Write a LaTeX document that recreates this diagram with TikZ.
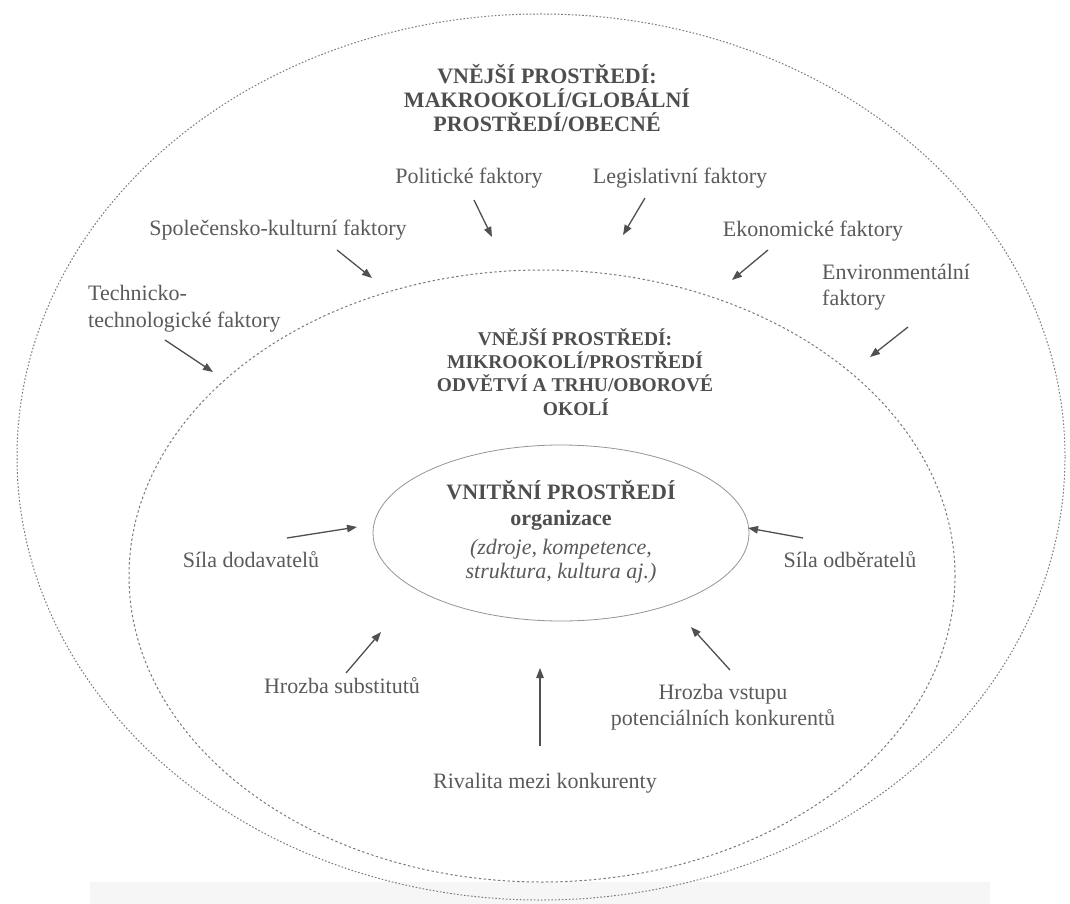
\documentclass[tikz,border=0pt]{standalone}
\usepackage{fontspec}
\setmainfont{Liberation Serif}
\usetikzlibrary{arrows.meta}
\definecolor{inkgray}{HTML}{4E4E4E}
\definecolor{labelgray}{HTML}{5A5A5A}
\definecolor{linegray}{HTML}{7A7A7A}
\definecolor{arrowgray}{HTML}{505050}
\definecolor{bandgray}{HTML}{F6F6F6}
\tikzset{
  heading/.style={inner sep=0pt, anchor=base, text=inkgray,
    font=\fontsize{22}{22}\selectfont\bfseries},
  subheading/.style={heading, font=\fontsize{19.5}{22}\selectfont\bfseries},
  label/.style={inner sep=0pt, anchor=base, text=labelgray,
    font=\fontsize{22}{26}\selectfont},
  labelleft/.style={label, anchor=base west},
  note/.style={inner sep=0pt, anchor=base, text=labelgray,
    font=\fontsize{22}{26}\selectfont\itshape},
  force/.style={draw=arrowgray, line width=1.3pt,
    -{Triangle[length=10pt,width=7.5pt]}},
  macroring/.style={draw=linegray, line width=1pt, dash pattern=on 1.6pt off 1.9pt},
  microring/.style={draw=linegray, line width=1pt, dash pattern=on 2.4pt off 2.4pt},
  corering/.style={draw=linegray!80, line width=0.8pt}
}
\begin{document}
\begin{tikzpicture}[x=1pt,y=-1pt]
\useasboundingbox (0,0) rectangle (1070,904);
\fill[white] (0,0) rectangle (1070,904);
\fill[bandgray] (90,882) rectangle (990,904);

% three nested environments
\draw[macroring] (541,457) ellipse [x radius=524, y radius=443];
\draw[microring] (542,576) ellipse [x radius=413, y radius=306];
\draw[corering]  (561,533) ellipse [x radius=188, y radius=88];

% macro environment heading
\node[heading] (macroA) at (547,84)  {VNĚJŠÍ PROSTŘEDÍ:};
\node[heading] (macroB) at (547,108) {MAKROOKOLÍ/GLOBÁLNÍ};
\node[heading] (macroC) at (547,132) {PROSTŘEDÍ/OBECNÉ};

% macro factors
\node[label] (polit) at (469,183) {Politické faktory};
\node[label] (legis) at (680,183) {Legislativní faktory};
\node[label] (social) at (278,235) {Společensko-kulturní faktory};
\node[label] (econ) at (813,236) {Ekonomické faktory};
\node[labelleft] (envA) at (822,279) {Environmentální};
\node[labelleft] (envB) at (822,305) {faktory};
\node[labelleft] (techA) at (88,300) {Technicko-};
\node[labelleft] (techB) at (88,327) {technologické faktory};

% micro environment heading
\node[subheading] (microA) at (575,345) {VNĚJŠÍ PROSTŘEDÍ:};
\node[subheading] (microB) at (575,368) {MIKROOKOLÍ/PROSTŘEDÍ};
\node[subheading] (microC) at (575,391) {ODVĚTVÍ A TRHU/OBOROVÉ};
\node[subheading] (microD) at (576,415) {OKOLÍ};

% internal environment
\node[heading] (coreA) at (561,499) {VNITŘNÍ PROSTŘEDÍ};
\node[heading] (coreB) at (561,525) {organizace};
\node[note] (coreC) at (561,554) {(zdroje, kompetence,};
\node[note] (coreD) at (561,578) {struktura, kultura aj.)};

% competitive forces
\node[label] (suppl) at (251,567) {Síla dodavatelů};
\node[label] (buyer) at (850,567) {Síla odběratelů};
\node[label] (subst) at (342,693) {Hrozba substitutů};
\node[label] (entryA) at (723,699) {Hrozba vstupu};
\node[label] (entryB) at (723,725) {potenciálních konkurentů};
\node[label] (rival) at (545,788) {Rivalita mezi konkurenty};

% arrow end points
\coordinate (politS) at (474,200);  \coordinate (politE) at (492,237);
\coordinate (legisS) at (645,198);  \coordinate (legisE) at (623,235);
\coordinate (socialS) at (337,250); \coordinate (socialE) at (372,278);
\coordinate (econS) at (768,250);   \coordinate (econE) at (732,280);
\coordinate (envS) at (908,327);    \coordinate (envE) at (870,357);
\coordinate (techS) at (165,340);   \coordinate (techE) at (213,372);
\coordinate (supplS) at (287,538);  \coordinate (supplE) at (357,527);
\coordinate (buyerS) at (803,538);  \coordinate (buyerE) at (748,528);
\coordinate (substS) at (346,673);  \coordinate (substE) at (381,632);
\coordinate (entryS) at (730,670);  \coordinate (entryE) at (691,627);
\coordinate (rivalS) at (540,746);  \coordinate (rivalE) at (540,668);

\draw[force] (politS) -- (politE);
\draw[force] (legisS) -- (legisE);
\draw[force] (socialS) -- (socialE);
\draw[force] (econS) -- (econE);
\draw[force] (envS) -- (envE);
\draw[force] (techS) -- (techE);
\draw[force] (supplS) -- (supplE);
\draw[force] (buyerS) -- (buyerE);
\draw[force] (substS) -- (substE);
\draw[force] (entryS) -- (entryE);
\draw[force] (rivalS) -- (rivalE);
\end{tikzpicture}
\end{document}
